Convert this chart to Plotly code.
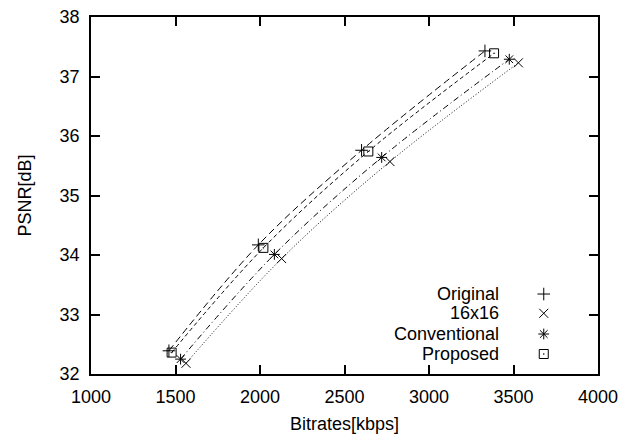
import plotly.graph_objects as go

# ---- data ----
series_names = ["Original", "16x16", "Conventional", "Proposed"]
original_x = [1461, 1990, 2601, 3331]
original_y = [32.39, 34.17, 35.76, 37.43]
x16_x = [1562, 2128, 2769, 3529]
x16_y = [32.18, 33.94, 35.57, 37.23]
conventional_x = [1530, 2085, 2720, 3475]
conventional_y = [32.25, 34.01, 35.64, 37.29]
proposed_x = [1477, 2020, 2641, 3385]
proposed_y = [32.36, 34.12, 35.74, 37.39]

x_ticks = [1000, 1500, 2000, 2500, 3000, 3500, 4000]
y_ticks = [32, 33, 34, 35, 36, 37, 38]

# ---- styles ----
FONT = "Liberation Sans, Arial, sans-serif"
symbols = ["cross-thin", "x-thin", "asterisk-open", "square-open-dot"]
dashes = ["7px,4px", "1px,2px", "6px,3px,1px,3px", "4px,3px"]
xs = [original_x, x16_x, conventional_x, proposed_x]
ys = [original_y, x16_y, conventional_y, proposed_y]

fig = go.Figure()

for name, x, y, dash in zip(series_names, xs, ys, dashes):
    fig.add_trace(go.Scatter(
        x=x, y=y, mode="lines", showlegend=False,
        line=dict(color="black", width=1, dash=dash, shape="spline", smoothing=1.0),
        hoverinfo="skip",
    ))

for name, x, y, sym in zip(series_names, xs, ys, symbols):
    fig.add_trace(go.Scatter(
        x=x, y=y, mode="markers", name=name, showlegend=False,
        marker=dict(symbol=sym, size=9, color="black", line=dict(color="black", width=1)),
    ))

# ---- gnuplot-style key: text right-aligned, sample symbol on the right ----
key_rows = [0.224, 0.170, 0.112, 0.056]
key_text_x = 0.809
key_sym_x = 0.893
for name, sym, ky in zip(series_names, symbols, key_rows):
    fig.add_annotation(
        x=key_text_x, y=ky, xref="paper", yref="paper", text=name,
        showarrow=False, xanchor="right", yanchor="middle",
        font=dict(family=FONT, size=18, color="black"),
    )
    fig.add_trace(go.Scatter(
        x=[key_sym_x], y=[ky], xaxis="x2", yaxis="y2", mode="markers",
        showlegend=False, hoverinfo="skip",
        marker=dict(symbol=sym, size=9, color="black", line=dict(color="black", width=1)),
    ))

axis_common = dict(
    showline=True, linecolor="black", linewidth=1.5, mirror="ticks",
    ticks="inside", ticklen=9, tickwidth=1.5, tickcolor="black",
    showgrid=False, zeroline=False, automargin=False, ticklabeloverflow="allow",
    tickfont=dict(family=FONT, size=18, color="black"),
)

# the page body has an 8px margin, so the figure is made 8px smaller and the
# left/top margins reduced to keep the plot area where the reference has it
fig.update_layout(
    width=618, height=431,
    margin=dict(l=83, r=28, t=9, b=65),
    paper_bgcolor="white", plot_bgcolor="white",
    font=dict(family=FONT, size=18, color="black"),
    xaxis=dict(range=[1000, 4000], tickvals=x_ticks, ticktext=[str(v) for v in x_ticks],
               title=dict(text="Bitrates[kbps]", standoff=11, font=dict(family=FONT, size=18)),
               ticklabelstandoff=6, **axis_common),
    yaxis=dict(range=[32, 38], tickvals=y_ticks, ticktext=[str(v) for v in y_ticks],
               title=dict(text="PSNR[dB]", standoff=23, font=dict(family=FONT, size=18)),
               ticklabelstandoff=6, **axis_common),
    xaxis2=dict(overlaying="x", range=[0, 1], visible=False),
    yaxis2=dict(overlaying="y", range=[0, 1], visible=False),
)

fig.write_html("out.html")
